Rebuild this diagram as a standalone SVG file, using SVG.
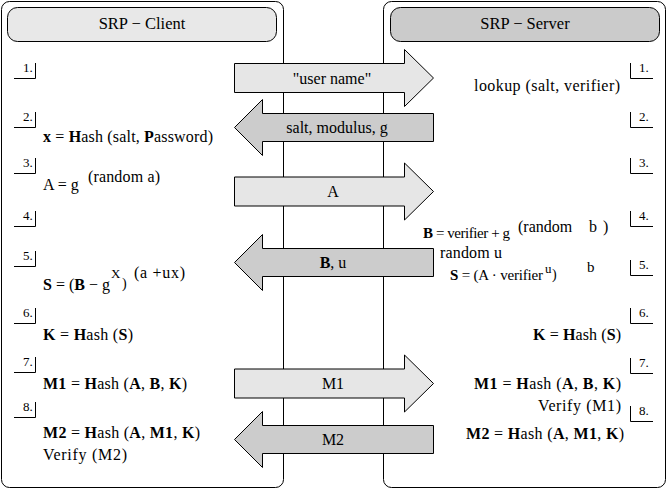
<svg xmlns="http://www.w3.org/2000/svg" width="668" height="490" viewBox="0 0 668 490" font-family="serif" font-size="16">
<style>
.b{font-weight:bold}
.num{font-size:13px}
.mid{text-anchor:middle}
.end{text-anchor:end}
.panel{fill:#fff;stroke:#000}
.br{fill:none;stroke:#000}
</style>
<defs>
<path id="rarrow" d="M234.5,-14.5H404.5V-28.5L433.5,0L404.5,28.5V14.5H234.5Z" fill="#e6e6e6" stroke="#000"/>
<path id="larrow" d="M433.5,-14H262.5V-28L234.5,0L262.5,28V14H433.5Z" fill="#cccccc" stroke="#000"/>
</defs>
<g id="client">
<rect class="panel" x="1.5" y="1.5" width="282" height="486" rx="8"/>
<rect x="7.5" y="7.5" width="269" height="34" rx="10" fill="#e8e8e8" stroke="#000"/>
<text class="mid" font-size="16.5" x="142" y="29">SRP − Client</text>
<path class="br" d="M14,78.5H35.5V63M14,127.5H35.5V112M14,173.5H35.5V158M14,226.5H35.5V211M14,266.5H35.5V251M14,323.5H35.5V308M14,372.5H35.5V357M14,417.5H35.5V402"/>
<text class="num" x="23" y="72">1.</text>
<text class="num" x="23" y="121">2.</text>
<text class="num" x="23" y="167">3.</text>
<text class="num" x="23" y="220">4.</text>
<text class="num" x="23" y="260">5.</text>
<text class="num" x="23" y="317">6.</text>
<text class="num" x="23" y="366">7.</text>
<text class="num" x="23" y="411">8.</text>
<text x="43" y="142" textLength="170"><tspan class="b">x</tspan> = <tspan class="b">H</tspan>ash (salt, <tspan class="b">P</tspan>assword)</text>
<text x="43" y="190">A = g</text>
<text x="88" y="182" textLength="72">(random a)</text>
<text x="43" y="290"><tspan class="b">S</tspan> = (<tspan class="b">B</tspan> − g</text>
<text x="111" y="278" font-size="13">X</text>
<text x="122" y="288" font-size="14">)</text>
<text x="134" y="278" textLength="51">(a +ux)</text>
<text x="43" y="340" textLength="90"><tspan class="b">K</tspan> = <tspan class="b">H</tspan>ash (<tspan class="b">S</tspan>)</text>
<text x="43" y="389" textLength="144"><tspan class="b">M1</tspan> = <tspan class="b">H</tspan>ash (<tspan class="b">A</tspan>, <tspan class="b">B</tspan>, <tspan class="b">K</tspan>)</text>
<text x="43" y="438" textLength="157"><tspan class="b">M2</tspan> = <tspan class="b">H</tspan>ash (<tspan class="b">A</tspan>, <tspan class="b">M1</tspan>, <tspan class="b">K</tspan>)</text>
<text x="43" y="460" textLength="84">Verify (M2)</text>
</g>
<g id="server">
<rect class="panel" x="383.5" y="1.5" width="282" height="486" rx="8"/>
<rect x="390.5" y="7.5" width="269" height="34" rx="10" fill="#cbcbcb" stroke="#000"/>
<text class="mid" font-size="16.5" x="525" y="29">SRP − Server</text>
<path class="br" d="M653,78.5H630.5V63M653,127.5H630.5V112M653,173.5H630.5V158M653,226.5H630.5V211M653,275.5H630.5V260M653,323.5H630.5V308M653,373.5H630.5V358M653,421.5H630.5V406"/>
<text class="num" x="639" y="72">1.</text>
<text class="num" x="639" y="121">2.</text>
<text class="num" x="639" y="167">3.</text>
<text class="num" x="639" y="220">4.</text>
<text class="num" x="639" y="269">5.</text>
<text class="num" x="639" y="317">6.</text>
<text class="num" x="639" y="367">7.</text>
<text class="num" x="639" y="415">8.</text>
<text x="474" y="91" textLength="146">lookup (salt, verifier)</text>
<text x="423" y="238" font-size="15" textLength="87"><tspan class="b">B</tspan> = verifier + g</text>
<text y="232"><tspan x="518">(random</tspan><tspan x="589">b</tspan><tspan x="603">)</tspan></text>
<text x="440" y="258" textLength="62">random u</text>
<text x="450" y="280" font-size="15" textLength="93"><tspan class="b">S</tspan> = (A · verifier</text>
<text x="545" y="273" font-size="13">u</text>
<text x="552" y="279" font-size="14">)</text>
<text x="587" y="272" font-size="15">b</text>
<text class="end" x="621" y="340" textLength="88"><tspan class="b">K</tspan> = <tspan class="b">H</tspan>ash (<tspan class="b">S</tspan>)</text>
<text class="end" x="621" y="389" textLength="147"><tspan class="b">M1</tspan> = <tspan class="b">H</tspan>ash (<tspan class="b">A</tspan>, <tspan class="b">B</tspan>, <tspan class="b">K</tspan>)</text>
<text class="end" x="621" y="411" textLength="83">Verify (M1)</text>
<text class="end" x="624" y="439" textLength="158"><tspan class="b">M2</tspan> = <tspan class="b">H</tspan>ash (<tspan class="b">A</tspan>, <tspan class="b">M1</tspan>, <tspan class="b">K</tspan>)</text>
</g>
<g id="connectors">
<g id="msg1"><use href="#rarrow" y="78"/><text class="mid" x="332" y="84">"user name"</text></g>
<g id="msg2"><use href="#larrow" y="127.5"/><text class="mid" x="337" y="133">salt, modulus, g</text></g>
<g id="msg3"><use href="#rarrow" y="191.5"/><text class="mid" x="333" y="197">A</text></g>
<g id="msg4"><use href="#larrow" y="262.5"/><text class="mid" x="333" y="268"><tspan class="b">B</tspan>, u</text></g>
<g id="msg5"><use href="#rarrow" y="383.5"/><text class="mid" x="333" y="389">M1</text></g>
<g id="msg6"><use href="#larrow" y="439.5"/><text class="mid" x="333" y="445">M2</text></g>
</g>
</svg>
